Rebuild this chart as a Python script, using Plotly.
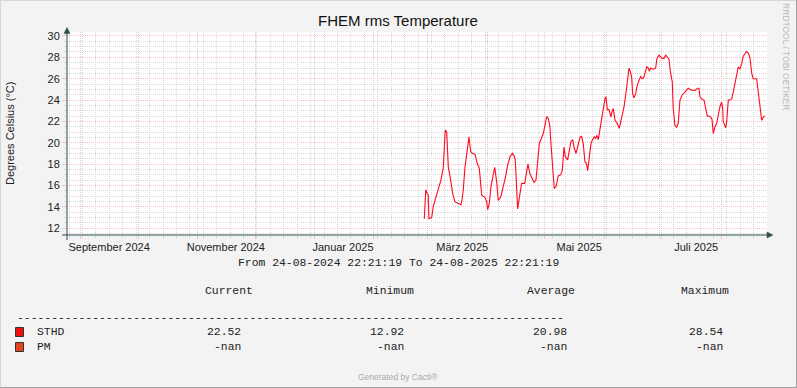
import plotly.graph_objects as go

# ---------------- data ----------------
dates = [
    "2025-02-27 06:00", "2025-02-28 00:00", "2025-02-28 19:00", "2025-03-01 07:00", "2025-03-01 16:00",
    "2025-03-03 02:00", "2025-03-03 22:00", "2025-03-05 04:00", "2025-03-06 13:00", "2025-03-07 22:00",
    "2025-03-09 03:00", "2025-03-10 04:00", "2025-03-10 22:00", "2025-03-11 18:00", "2025-03-13 00:00",
    "2025-03-14 01:00", "2025-03-15 06:00", "2025-03-16 23:00", "2025-03-18 09:00", "2025-03-18 21:00",
    "2025-03-19 13:00", "2025-03-20 11:00", "2025-03-21 08:00", "2025-03-22 13:00", "2025-03-23 10:00",
    "2025-03-24 11:00", "2025-03-25 16:00", "2025-03-26 21:00", "2025-03-27 22:00", "2025-03-29 04:00",
    "2025-03-30 21:00", "2025-03-31 18:00", "2025-04-01 07:00", "2025-04-02 03:00", "2025-04-03 00:00",
    "2025-04-03 21:00", "2025-04-04 23:00", "2025-04-06 00:00", "2025-04-06 19:00", "2025-04-08 01:00",
    "2025-04-09 10:00", "2025-04-10 11:00", "2025-04-11 17:00", "2025-04-12 22:00", "2025-04-14 03:00",
    "2025-04-15 00:00", "2025-04-15 16:00", "2025-04-16 10:00", "2025-04-16 22:00", "2025-04-17 18:00",
    "2025-04-19 00:00", "2025-04-20 14:00", "2025-04-21 06:00", "2025-04-22 07:00", "2025-04-23 08:00",
    "2025-04-24 06:00", "2025-04-25 10:00", "2025-04-26 11:00", "2025-04-27 04:00", "2025-04-28 05:00",
    "2025-04-29 06:00", "2025-04-30 07:00", "2025-05-01 04:00", "2025-05-02 01:00", "2025-05-02 21:00",
    "2025-05-03 18:00", "2025-05-04 03:00", "2025-05-05 04:00", "2025-05-06 00:00", "2025-05-06 22:00",
    "2025-05-08 02:00", "2025-05-09 08:00", "2025-05-10 04:00", "2025-05-11 02:00", "2025-05-11 18:00",
    "2025-05-13 00:00", "2025-05-13 20:00", "2025-05-14 17:00", "2025-05-15 15:00", "2025-05-16 07:00",
    "2025-05-17 08:00", "2025-05-18 13:00", "2025-05-19 10:00", "2025-05-20 07:00", "2025-05-21 03:00",
    "2025-05-22 00:00", "2025-05-22 17:00", "2025-05-23 10:00", "2025-05-24 03:00", "2025-05-25 04:00",
    "2025-05-25 20:00", "2025-05-26 21:00", "2025-05-27 14:00", "2025-05-28 07:00", "2025-05-28 23:00",
    "2025-05-29 20:00", "2025-05-30 18:00", "2025-05-31 13:00", "2025-06-01 11:00", "2025-06-01 23:00",
    "2025-06-02 16:00", "2025-06-03 13:00", "2025-06-04 14:00", "2025-06-05 06:00", "2025-06-05 19:00",
    "2025-06-06 16:00", "2025-06-07 21:00", "2025-06-08 22:00", "2025-06-09 15:00", "2025-06-10 11:00",
    "2025-06-11 09:00", "2025-06-12 06:00", "2025-06-13 02:00", "2025-06-13 23:00", "2025-06-14 15:00",
    "2025-06-15 09:00", "2025-06-15 21:00", "2025-06-16 14:00", "2025-06-17 11:00", "2025-06-18 07:00",
    "2025-06-19 08:00", "2025-06-20 01:00", "2025-06-20 22:00", "2025-06-21 15:00", "2025-06-22 07:00",
    "2025-06-23 05:00", "2025-06-24 01:00", "2025-06-24 13:00", "2025-06-25 07:00", "2025-06-26 03:00",
    "2025-06-27 00:00", "2025-06-27 21:00", "2025-06-28 13:00", "2025-06-29 15:00", "2025-06-30 12:00",
    "2025-07-01 08:00", "2025-07-02 05:00", "2025-07-03 02:00", "2025-07-03 22:00", "2025-07-04 20:00",
    "2025-07-05 12:00", "2025-07-06 13:00", "2025-07-07 01:00", "2025-07-07 23:00", "2025-07-08 20:00",
    "2025-07-09 16:00", "2025-07-10 13:00", "2025-07-11 18:00", "2025-07-13 04:00", "2025-07-14 21:00",
    "2025-07-16 03:00", "2025-07-17 12:00", "2025-07-18 18:00", "2025-07-19 19:00", "2025-07-20 11:00",
    "2025-07-20 23:00", "2025-07-21 21:00", "2025-07-23 02:00", "2025-07-24 03:00", "2025-07-24 19:00",
    "2025-07-25 16:00", "2025-07-26 13:00", "2025-07-27 06:00", "2025-07-27 22:00", "2025-07-28 19:00",
    "2025-07-29 17:00", "2025-07-30 13:00", "2025-07-31 10:00", "2025-08-01 07:00", "2025-08-01 20:00",
    "2025-08-02 03:00", "2025-08-02 16:00", "2025-08-03 09:00", "2025-08-03 22:00", "2025-08-04 18:00",
    "2025-08-05 15:00", "2025-08-06 12:00", "2025-08-07 08:00", "2025-08-08 06:00", "2025-08-09 03:00",
    "2025-08-09 23:00", "2025-08-10 20:00", "2025-08-11 18:00", "2025-08-12 13:00", "2025-08-13 11:00",
    "2025-08-14 08:00", "2025-08-15 04:00", "2025-08-16 01:00", "2025-08-16 23:00", "2025-08-17 18:00",
    "2025-08-18 16:00", "2025-08-19 13:00", "2025-08-20 09:00", "2025-08-21 06:00", "2025-08-22 04:00",
    "2025-08-23 00:00", "2025-08-23 21:00",
]
sthd = [
    12.9, 15.6, 15.25, 15.1, 12.9,
    13.0, 14.06, 14.78, 15.72, 16.5,
    17.66, 21.19, 21.0, 17.75, 16.5,
    15.25, 14.47, 14.3, 14.2, 14.6,
    15.56, 17.75, 19.16, 20.56, 19.16,
    19.0, 18.94, 18.06, 17.6, 15.1,
    14.9, 14.5, 13.75, 14.3, 15.9,
    16.7, 17.7, 16.3, 14.6, 14.9,
    15.9, 16.7, 17.9, 18.69, 19.0,
    18.8, 18.4, 15.9, 13.8, 14.8,
    16.2, 16.2, 16.8, 18.0, 17.1,
    16.7, 16.3, 16.5, 18.06, 19.94,
    20.4, 20.87, 21.66, 22.44, 22.3,
    21.5, 20.3, 17.3, 15.72, 15.9,
    16.9, 17.0, 17.4, 19.6, 18.7,
    18.4, 19.3, 20.1, 20.3, 19.6,
    19.0, 19.9, 20.5, 20.6, 19.9,
    18.2, 18.1, 17.4, 18.4, 19.94,
    20.25, 20.56, 20.4, 20.7, 20.3,
    21.35, 22.13, 23.22, 24.16, 24.3,
    23.1, 23.1, 22.4, 23.0, 23.2,
    22.1, 21.8, 21.35, 22.0, 22.4,
    23.37, 24.47, 25.87, 26.97, 26.7,
    26.1, 24.6, 24.2, 24.6, 25.4,
    25.9, 26.2, 26.0, 26.1, 26.5,
    27.12, 27.0, 26.7, 27.0, 26.9,
    26.9, 27.0, 27.9, 28.2, 28.05,
    27.9, 27.9, 28.2, 28.05, 27.8,
    26.7, 25.7, 23.22, 21.6, 21.45,
    21.85, 24.0, 24.5, 24.75, 25.1,
    24.95, 24.9, 24.95, 25.1, 25.1,
    24.3, 24.1, 24.0, 23.1, 22.5,
    22.5, 22.4, 22.2, 20.87, 21.5,
    21.8, 22.6, 23.4, 23.8, 23.2,
    22.0, 21.7, 21.4, 22.0, 24.0,
    24.0, 24.1, 24.75, 25.56, 26.5,
    27.1, 26.9, 27.4, 28.1, 28.4,
    28.54, 28.4, 27.97, 26.5, 26.0,
    26.0, 26.0, 24.75, 23.2, 22.1,
    22.4, 22.52,
]

x_start = "2024-08-24 22:21:19"
x_end = "2025-08-24 22:21:19"
month_label_dates = ["2024-09-15 22:00", "2024-11-15 18:00", "2025-01-15 20:00",
                     "2025-03-19 00:00", "2025-05-19 00:00", "2025-07-19 00:00"]
month_label_text = ["September 2024", "November 2024", "Januar 2025",
                    "März 2025", "Mai 2025", "Juli 2025"]

legend_names = ["STHD", "PM"]
legend_colors = ["#ee1111", "#e8431f"]
col_headers = ["Current", "Minimum", "Average", "Maximum"]
col_current = ["22.52", "-nan"]
col_minimum = ["12.92", "-nan"]
col_average = ["20.98", "-nan"]
col_maximum = ["28.54", "-nan"]

# ---------------- layout geometry (pixels) ----------------
W, H = 797, 388
L, R, T, B = 67, 767, 32, 235


def PX(x):
    return (x - L) / (R - L)


def PY(y):
    return (B - y) / (B - T)


SANS = "Liberation Sans, Arial, sans-serif"
MONO = "Liberation Mono, DejaVu Sans Mono, monospace"
MGRID = "#f3c2c2"
GRID = "#d9d9d9"
AXIS = "#2f4f4f"
DOT = "1px,1px"

fig = go.Figure()
fig.add_trace(go.Scatter(x=dates, y=sthd, mode="lines",
                         line=dict(color="#ff0a1e", width=1.1),
                         hoverinfo="skip", showlegend=False))
fig.add_trace(go.Scatter(x=month_label_dates, y=[None] * len(month_label_dates),
                         xaxis="x2", yaxis="y", mode="markers",
                         hoverinfo="skip", showlegend=False))

fig.update_layout(
    width=W, height=H, autosize=False,
    margin=dict(l=L, r=W - R, t=T, b=H - B, pad=0),
    paper_bgcolor="#f3f3f3", plot_bgcolor="#ffffff",
    xaxis=dict(type="date", range=[x_start, x_end], showgrid=True,
               gridcolor=MGRID, griddash=DOT, gridwidth=1,
               dtick="M1", tick0="2024-09-01", showticklabels=False,
               ticks="outside", ticklen=3, tickcolor=MGRID,
               zeroline=False, showline=False, fixedrange=True,
               minor=dict(dtick=7 * 86400000, tick0="2024-09-02", showgrid=True,
                          gridcolor=GRID, griddash=DOT, gridwidth=1,
                          ticks="outside", ticklen=2, tickcolor=GRID)),
    xaxis2=dict(type="date", range=[x_start, x_end], overlaying="x", anchor="y",
                side="bottom", tickmode="array", tickvals=month_label_dates,
                ticktext=month_label_text, showgrid=False, zeroline=False,
                showline=False, ticks="outside", ticklen=2,
                tickcolor="rgba(0,0,0,0)",
                tickfont=dict(family=SANS, size=11, color="#222222")),
    yaxis=dict(range=[11.37, 30.37], dtick=2, tick0=0, showgrid=True,
               gridcolor=MGRID, griddash=DOT, gridwidth=1,
               ticks="outside", ticklen=4, tickcolor=MGRID,
               zeroline=False, showline=False, fixedrange=True,
               tickfont=dict(family=SANS, size=11, color="#222222"),
               minor=dict(dtick=0.5, tick0=0, showgrid=True, gridcolor=GRID,
                          griddash=DOT, gridwidth=1, ticks="outside",
                          ticklen=2, tickcolor=GRID)),
)

ann = []


def text(x, y, s, size, family=SANS, color="#222222", xanchor="center",
         angle=0):
    ann.append(dict(x=PX(x), y=PY(y), xref="paper", yref="paper", text=s,
                    showarrow=False, xanchor=xanchor, yanchor="middle",
                    textangle=angle, borderpad=0, borderwidth=0,
                    font=dict(family=family, size=size, color=color)))


text(398, 21, "FHEM rms Temperature", 15, color="#111111")
text(10, 134, "Degrees Celsius (°C)", 11, angle=-90)
text(786, 56, "RRDTOOL / TOBI OETIKER", 8.5, color="#b8b8b8", angle=90)
text(398, 263, "From 24-08-2024 22:21:19 To 24-08-2025 22:21:19", 11.4, MONO)

header_x = [205, 365.7, 527, 681]
for hx, h in zip(header_x, col_headers):
    text(hx, 291, h, 11.4, MONO, xanchor="left")
text(16.7, 318, "-" * 80, 11.4, MONO, xanchor="left")

row_y = [332, 347]
value_right = [241, 403.8, 566.8, 723]
shapes = []
for i, name in enumerate(legend_names):
    ry = row_y[i]
    text(37.3, ry, name, 11.4, MONO, xanchor="left")
    for vx, col in zip(value_right, [col_current, col_minimum, col_average, col_maximum]):
        text(vx, ry, col[i], 11.4, MONO, xanchor="right")
    shapes.append(dict(type="rect", xref="paper", yref="paper",
                       x0=PX(15.5), x1=PX(23.5), y0=PY(ry - 4.5), y1=PY(ry + 4.5),
                       fillcolor=legend_colors[i], line=dict(color="#333333", width=1)))

text(398, 377, "Generated by Cacti®", 8.5, color="#ababab")

# axes with arrows
shapes.append(dict(type="line", xref="paper", yref="paper", x0=PX(62), x1=PX(769),
                   y0=PY(235), y1=PY(235), line=dict(color=AXIS, width=1)))
shapes.append(dict(type="line", xref="paper", yref="paper", x0=PX(67), x1=PX(67),
                   y0=PY(240), y1=PY(31), line=dict(color=AXIS, width=1)))
shapes.append(dict(type="path", xref="paper", yref="paper",
                   path=f"M {PX(773)} {PY(235)} L {PX(767)} {PY(232)} L {PX(767)} {PY(238)} Z",
                   fillcolor=AXIS, line=dict(color=AXIS, width=0.5)))
shapes.append(dict(type="path", xref="paper", yref="paper",
                   path=f"M {PX(67)} {PY(27.5)} L {PX(64)} {PY(33.5)} L {PX(70)} {PY(33.5)} Z",
                   fillcolor=AXIS, line=dict(color=AXIS, width=0.5)))

# image border
shapes.append(dict(type="line", xref="paper", yref="paper", x0=PX(0), x1=PX(797),
                   y0=PY(0.5), y1=PY(0.5), line=dict(color="#d6d6d6", width=1)))
shapes.append(dict(type="line", xref="paper", yref="paper", x0=PX(0.5), x1=PX(0.5),
                   y0=PY(0), y1=PY(388), line=dict(color="#d6d6d6", width=1)))
shapes.append(dict(type="line", xref="paper", yref="paper", x0=PX(796.5), x1=PX(796.5),
                   y0=PY(0), y1=PY(388), line=dict(color="#a0a0a0", width=1)))
shapes.append(dict(type="line", xref="paper", yref="paper", x0=PX(0), x1=PX(797),
                   y0=PY(387.5), y1=PY(387.5), line=dict(color="#a0a0a0", width=1)))

fig.update_layout(annotations=ann, shapes=shapes)
fig.write_html("out.html")
